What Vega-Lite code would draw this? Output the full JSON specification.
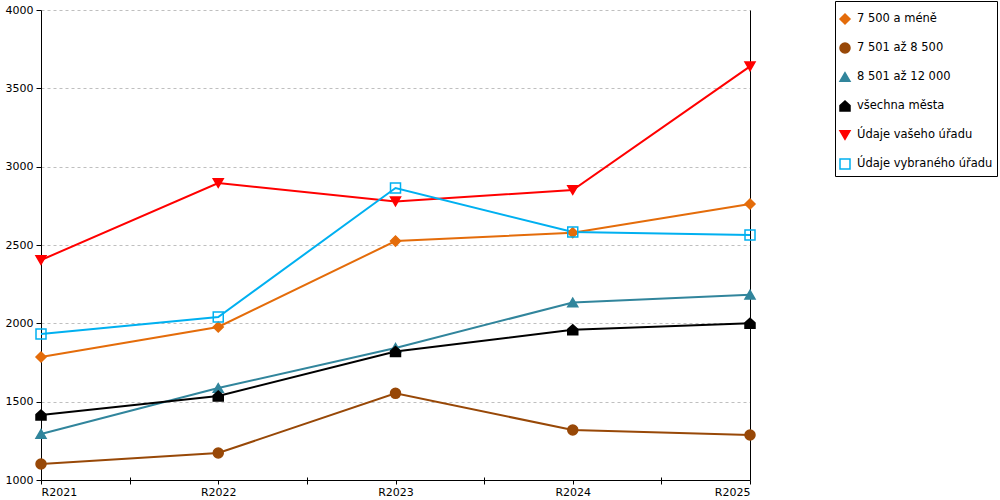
{
  "$schema": "https://vega.github.io/schema/vega-lite/v6.json",
  "width": 709,
  "height": 470,
  "autosize": {"type": "none"},
  "padding": {"left": 41, "top": 10, "right": 250, "bottom": 20},
  "config": {
    "font": "DejaVu Sans",
    "view": {"stroke": null},
    "axis": {"labelFont": "DejaVu Sans", "labelFontSize": 11, "labelColor": "#000000", "domainColor": "#000000", "tickColor": "#000000", "title": null},
    "legend": {
      "orient": "none", "legendX": 794, "legendY": -9,
      "strokeColor": "#000000", "fillColor": "#ffffff", "padding": 4,
      "titleFontSize": 7, "titlePadding": 1,
      "labelFontSize": 11.5, "labelColor": "#000000", "labelFont": "DejaVu Sans",
      "symbolSize": 100, "symbolStrokeWidth": 1.5, "rowPadding": 13, "labelOffset": 6, "labelLimit": 300
    }
  },
  "data": {
    "values": [
      {"rok": 2021, "skupina": "7 500 a méně", "hodnota": 1785},
      {"rok": 2022, "skupina": "7 500 a méně", "hodnota": 1977},
      {"rok": 2023, "skupina": "7 500 a méně", "hodnota": 2525},
      {"rok": 2024, "skupina": "7 500 a méně", "hodnota": 2578},
      {"rok": 2025, "skupina": "7 500 a méně", "hodnota": 2762},
      {"rok": 2021, "skupina": "7 501 až 8 500", "hodnota": 1102},
      {"rok": 2022, "skupina": "7 501 až 8 500", "hodnota": 1172},
      {"rok": 2023, "skupina": "7 501 až 8 500", "hodnota": 1553},
      {"rok": 2024, "skupina": "7 501 až 8 500", "hodnota": 1319},
      {"rok": 2025, "skupina": "7 501 až 8 500", "hodnota": 1287},
      {"rok": 2021, "skupina": "8 501 až 12 000", "hodnota": 1294},
      {"rok": 2022, "skupina": "8 501 až 12 000", "hodnota": 1587},
      {"rok": 2023, "skupina": "8 501 až 12 000", "hodnota": 1843},
      {"rok": 2024, "skupina": "8 501 až 12 000", "hodnota": 2133},
      {"rok": 2025, "skupina": "8 501 až 12 000", "hodnota": 2183},
      {"rok": 2021, "skupina": "všechna města", "hodnota": 1415},
      {"rok": 2022, "skupina": "všechna města", "hodnota": 1536},
      {"rok": 2023, "skupina": "všechna města", "hodnota": 1820},
      {"rok": 2024, "skupina": "všechna města", "hodnota": 1959},
      {"rok": 2025, "skupina": "všechna města", "hodnota": 2000},
      {"rok": 2021, "skupina": "Údaje vašeho úřadu", "hodnota": 2404},
      {"rok": 2022, "skupina": "Údaje vašeho úřadu", "hodnota": 2896},
      {"rok": 2023, "skupina": "Údaje vašeho úřadu", "hodnota": 2778},
      {"rok": 2024, "skupina": "Údaje vašeho úřadu", "hodnota": 2851},
      {"rok": 2025, "skupina": "Údaje vašeho úřadu", "hodnota": 3640},
      {"rok": 2021, "skupina": "Údaje vybraného úřadu", "hodnota": 1932},
      {"rok": 2022, "skupina": "Údaje vybraného úřadu", "hodnota": 2040},
      {"rok": 2023, "skupina": "Údaje vybraného úřadu", "hodnota": 2864},
      {"rok": 2024, "skupina": "Údaje vybraného úřadu", "hodnota": 2583},
      {"rok": 2025, "skupina": "Údaje vybraného úřadu", "hodnota": 2564}
    ]
  },
  "resolve": {"axis": {"x": "independent", "y": "independent"}},
  "layer": [
    {
      "mark": {"type": "line", "strokeWidth": 2},
      "encoding": {
        "x": {
          "field": "rok", "type": "quantitative",
          "scale": {"domain": [2021, 2025], "nice": false, "zero": false},
          "axis": {"orient": "bottom", "values": [2021, 2022, 2023, 2024, 2025], "labelExpr": "'R' + datum.value", "tickSize": 4, "labelPadding": 2, "grid": false}
        },
        "y": {
          "field": "hodnota", "type": "quantitative",
          "scale": {"domain": [1000, 4000], "nice": false, "zero": false},
          "axis": {"orient": "left", "values": [1000, 1500, 2000, 2500, 3000, 3500, 4000], "format": "d", "tickSize": 5, "labelPadding": 3, "grid": true, "gridColor": "#bfbfbf", "gridDash": [3, 3], "gridWidth": 1}
        },
        "color": {
          "field": "skupina", "type": "nominal", "title": " ",
          "scale": {
            "domain": ["7 500 a méně", "7 501 až 8 500", "8 501 až 12 000", "všechna města", "Údaje vašeho úřadu", "Údaje vybraného úřadu"],
            "range": ["#e46c0a", "#984807", "#31859c", "#000000", "#ff0000", "#00b0f0"]
          }
        }
      }
    },
    {
      "mark": {"type": "point", "filled": false, "size": 100, "strokeWidth": 1.5, "opacity": 1},
      "encoding": {
        "x": {
          "field": "rok", "type": "quantitative",
          "axis": {"orient": "bottom", "values": [2021.5, 2022.5, 2023.5, 2024.5], "labels": false, "domain": false, "tickSize": 7, "offset": -3, "grid": false}
        },
        "y": {
          "field": "hodnota", "type": "quantitative",
          "axis": {"orient": "right", "labels": false, "ticks": false, "grid": false, "domain": true}
        },
        "color": {"field": "skupina", "type": "nominal", "title": " "},
        "fill": {
          "field": "skupina", "type": "nominal", "title": " ",
          "scale": {
            "domain": ["7 500 a méně", "7 501 až 8 500", "8 501 až 12 000", "všechna města", "Údaje vašeho úřadu", "Údaje vybraného úřadu"],
            "range": ["#e46c0a", "#984807", "#31859c", "#000000", "#ff0000", "transparent"]
          }
        },
        "shape": {
          "field": "skupina", "type": "nominal", "title": " ",
          "scale": {
            "domain": ["7 500 a méně", "7 501 až 8 500", "8 501 až 12 000", "všechna města", "Údaje vašeho úřadu", "Údaje vybraného úřadu"],
            "range": ["diamond", "circle", "triangle-up", "M-1,-0.1L0,-1L1,-0.1L1,1L-1,1Z", "triangle-down", "square"]
          }
        }
      }
    }
  ]
}
